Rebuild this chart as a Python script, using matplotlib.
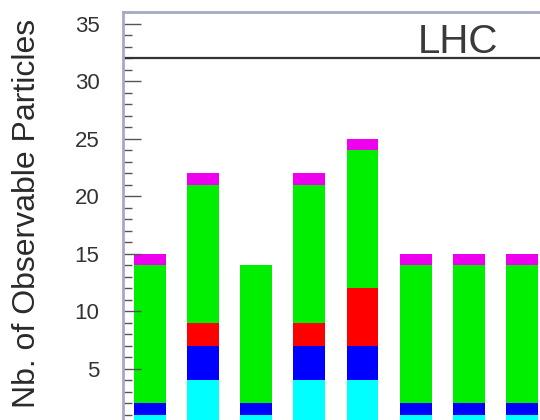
import matplotlib

matplotlib.use("Agg")
import matplotlib.pyplot as plt
import numpy as np
from matplotlib.ticker import MultipleLocator

plt.rcParams["font.family"] = ["Liberation Sans", "DejaVu Sans"]

# stacked counts per bar, bottom to top
cyan = [1, 4, 1, 4, 4, 1, 1, 1]
blue = [1, 3, 1, 3, 3, 1, 1, 1]
red = [0, 2, 0, 2, 5, 0, 0, 0]
green = [12, 12, 12, 12, 12, 12, 12, 12]
magenta = [1, 1, 0, 1, 1, 1, 1, 1]
layers = [cyan, blue, red, green, magenta]
layer_colors = ["#00ffff", "#0000ff", "#ff0000", "#00ee00", "#ee00ee"]

pave_bottom = 32
y_max = 36
label = "LHC"

fig = plt.figure(figsize=(5.4, 4.2), dpi=100)
# axes run past the right and bottom edges of the picture (cropped ROOT canvas)
ax = fig.add_axes([0.2278, -0.0155, 0.8833, 0.9869])

x = np.arange(len(cyan))
bottom = np.zeros(len(cyan))
for values, color in zip(layers, layer_colors):
    ax.bar(x, values, width=0.6, bottom=bottom, color=color, linewidth=0)
    bottom += np.array(values)

ax.set_xlim(-0.508, 8.47)
ax.set_ylim(0, y_max)

ax.axhline(pave_bottom, color="#333333", linewidth=1.6)
fig.text(458 / 540, 1 - 53 / 420, label, fontsize=29, color="#3a3a3a",
         ha="center", va="baseline")

ax.yaxis.set_major_locator(MultipleLocator(5))
ax.yaxis.set_minor_locator(MultipleLocator(1))
ax.tick_params(axis="y", which="major", direction="in", length=13, width=1,
               color="#555555", labelsize=16, labelcolor="#333333", pad=17)
ax.tick_params(axis="y", which="minor", direction="in", length=6.5, width=1,
               color="#555555")
ax.tick_params(axis="x", which="both", bottom=False, labelbottom=False)

for side in ["left", "top"]:
    ax.spines[side].set_color("#a8a8c8")
    ax.spines[side].set_linewidth(2)
for side in ["right", "bottom"]:
    ax.spines[side].set_visible(False)

fig.text(27 / 540, 1 - 213 / 420, "Nb. of Observable Particles", rotation=90,
         ha="center", va="center", fontsize=23, color="#2a2a2a")

fig.savefig("out.png", dpi=100)
